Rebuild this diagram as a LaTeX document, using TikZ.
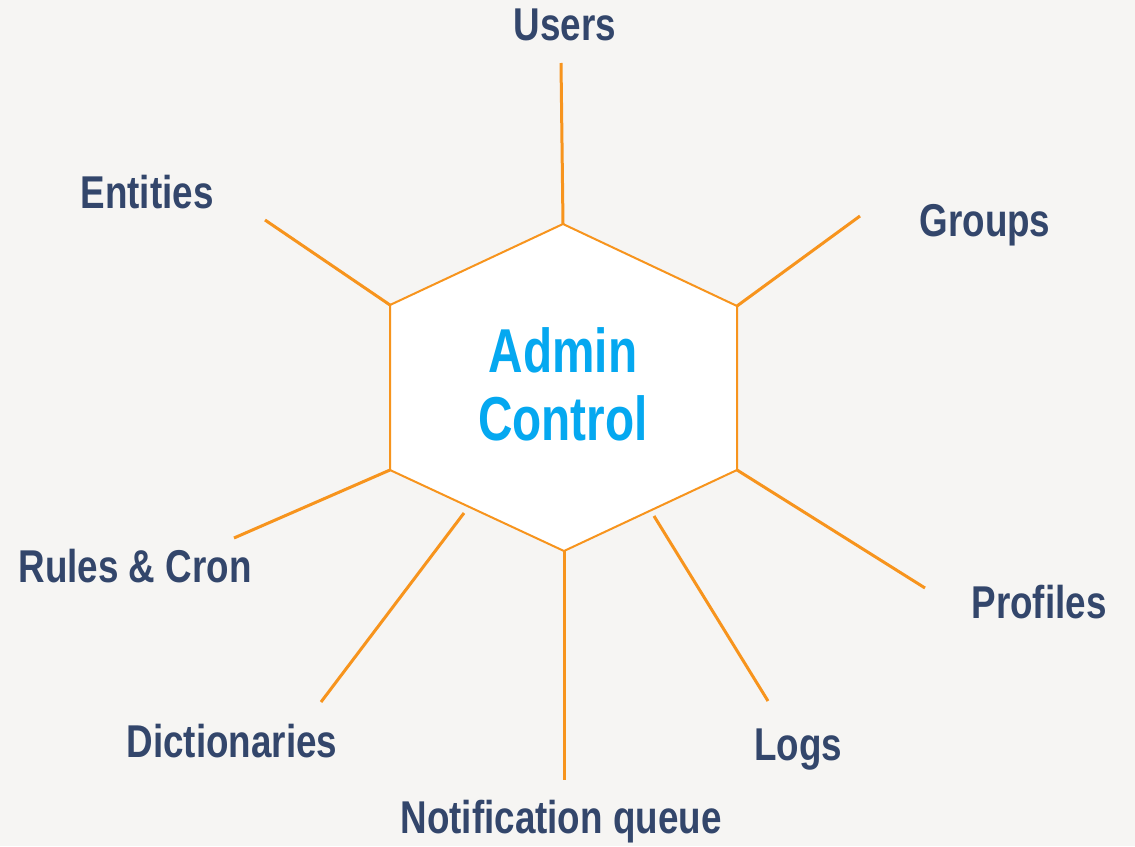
\documentclass[tikz,border=0pt]{standalone}
\usepackage{fontspec}
\setmainfont{Liberation Sans}
\newfontfamily\labelfont{Liberation Sans}[FakeStretch=0.8]
\newfontfamily\centerfont{Liberation Sans}[FakeStretch=0.77]
\usetikzlibrary{positioning}

\definecolor{bgcream}{HTML}{F6F5F3}
\definecolor{spokeorange}{HTML}{F7941D}
\definecolor{labelnavy}{HTML}{33466B}
\definecolor{adminblue}{HTML}{05A8F0}

\begin{document}
\begin{tikzpicture}[
        x=0.5pt, y=-0.5pt,
        labeltext/.style={anchor=base, inner sep=0pt, text=labelnavy, font=\labelfont\bfseries\fontsize{23}{26}\selectfont},
        centertext/.style={anchor=base, inner sep=0pt, align=center, text=adminblue, font=\centerfont\bfseries\fontsize{31}{34}\selectfont},
        spoke/.style={draw=spokeorange, line width=1.5pt},
        hexedge/.style={draw=spokeorange, fill=white, line width=1pt, line join=miter}
    ]

    \useasboundingbox (0,0) rectangle (1135,846);
    \fill[bgcream] (0,0) rectangle (1135,846);

    % hexagon corners
    \coordinate (hT)  at (563,224);
    \coordinate (hTR) at (737,306);
    \coordinate (hBR) at (737,470);
    \coordinate (hB)  at (564,551);
    \coordinate (hBL) at (390,470);
    \coordinate (hTL) at (390,305);
    \coordinate (hDict) at (464,513);
    \coordinate (hLogs) at (654,516);

    % free ends of the spokes
    \coordinate (eUsers)    at (561,63);
    \coordinate (eGroups)   at (860,216);
    \coordinate (eProfiles) at (925,588);
    \coordinate (eLogs)     at (768,701);
    \coordinate (eNotif)    at (564,780);
    \coordinate (eDict)     at (321,702);
    \coordinate (eRules)    at (234,538);
    \coordinate (eEntities) at (265,220);

    \draw[spoke] (hT) -- (eUsers);
    \draw[spoke] (hTR) -- (eGroups);
    \draw[spoke] (hBR) -- (eProfiles);
    \draw[spoke] (hLogs) -- (eLogs);
    \draw[spoke] (hB) -- (eNotif);
    \draw[spoke] (hDict) -- (eDict);
    \draw[spoke] (hBL) -- (eRules);
    \draw[spoke] (hTL) -- (eEntities);

    \filldraw[hexedge] (hT) -- (hTR) -- (hBR) -- (hB) -- (hBL) -- (hTL) -- cycle;

    \node[centertext] (admin) at (563,440) {Admin\\Control};

    \node[labeltext] (users)    at (565,40)  {Users};
    \node[labeltext] (groups)   at (985,236) {Groups};
    \node[labeltext] (profiles) at (1039,618) {Profiles};
    \node[labeltext] (logs)     at (798,760) {Logs};
    \node[labeltext] (notif)    at (561,833) {Notification queue};
    \node[labeltext] (dict)     at (232,757) {Dictionaries};
    \node[labeltext] (rules)    at (135,582) {Rules \& Cron};
    \node[labeltext] (entities) at (147,208) {Entities};

\end{tikzpicture}
\end{document}
